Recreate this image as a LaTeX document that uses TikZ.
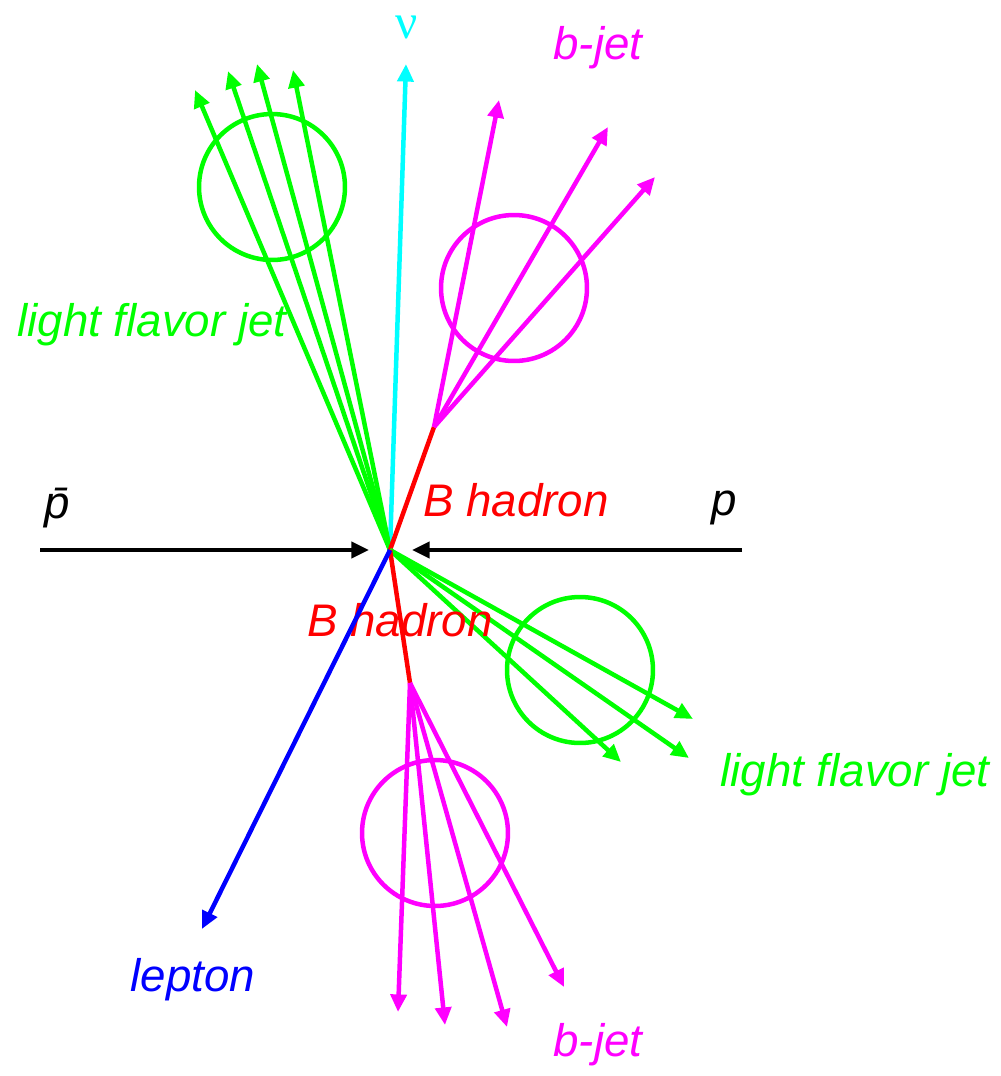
\documentclass[tikz,border=0pt]{standalone}
\usepackage{fontspec}
\setmainfont{Liberation Sans}
\newfontfamily\greekfont{Liberation Serif}
\usepackage{tikz}
\usetikzlibrary{arrows.meta,positioning,calc}
\definecolor{jetgreen}{RGB}{0,255,0}
\definecolor{jetmagenta}{RGB}{255,0,255}
\definecolor{nucyan}{RGB}{0,255,255}
\definecolor{lepblue}{RGB}{0,0,255}
\definecolor{hadred}{RGB}{255,0,0}

\begin{document}
\begin{tikzpicture}[
  x=0.02cm, y=-0.02cm,
  track/.style={line width=0.09cm, -{Triangle[length=10pt,width=9pt]}},
  flight/.style={line width=0.09cm, hadred},
  jetcone/.style={circle, draw, line width=0.09cm, minimum size=2.92cm, inner sep=0pt},
  tag/.style={font=\fontsize{26}{30}\selectfont\itshape, inner sep=0pt}
]
\useasboundingbox (0,0) rectangle (1001,1076);

% Interaction point
\coordinate (vtx) at (390,550);
\coordinate (bvtxup) at (434,427);
\coordinate (bvtxdn) at (410,683);

% Beams
\coordinate (pbarstart) at (40,550);
\coordinate (pbarend) at (369,550);
\coordinate (pstart) at (742,550);
\coordinate (pend) at (412,550);
\draw[track, black] (pbarstart) -- (pbarend);
\draw[track, black] (pstart) -- (pend);
\node[tag] (pbarlabel) at (57,508) {\=p};
\node[tag] (plabel) at (724,508) {p};

% Neutrino
\coordinate (nutip) at (406,64);
\draw[track, nucyan] (vtx) -- (nutip);
\node[font=\fontsize{28}{32}\selectfont\greekfont, text=nucyan, inner sep=0pt] (nulabel) at (407,27) {ν};

% Light flavor jet (upper left)
\node[jetcone, jetgreen] (lfcone1) at (272,187) {};
\foreach \tx/\ty [count=\i] in {195/90, 228/71, 257/64, 293/70}
  \coordinate (lftip1\i) at (\tx,\ty);
\foreach \i in {1,...,4}
  \draw[track, jetgreen] (vtx) -- (lftip1\i);
\node[tag, text=jetgreen] (lflabel1) at (152,325) {light flavor jet};

% b-jet (upper right)
\draw[flight] (vtx) -- (bvtxup);
\node[jetcone, jetmagenta] (bcone1) at (514,288) {};
\foreach \tx/\ty [count=\i] in {499/100, 608/127, 655/177}
  \coordinate (btip1\i) at (\tx,\ty);
\foreach \i in {1,...,3}
  \draw[track, jetmagenta] (bvtxup) -- (btip1\i);
\node[tag, text=jetmagenta] (blabel1) at (598,48) {b-jet};
\node[tag, text=hadred] (bhadlabel1) at (516,500) {B hadron};

% Light flavor jet (lower right)
\node[jetcone, jetgreen] (lfcone2) at (580,670) {};
\foreach \tx/\ty [count=\i] in {621/762, 689/758, 693/719}
  \coordinate (lftip2\i) at (\tx,\ty);
\foreach \i in {1,...,3}
  \draw[track, jetgreen] (vtx) -- (lftip2\i);
\node[tag, text=jetgreen] (lflabel2) at (855,775) {light flavor jet};

% b-jet (lower)
\draw[flight] (vtx) -- (bvtxdn);
\node[jetcone, jetmagenta] (bcone2) at (435,833) {};
\foreach \tx/\ty [count=\i] in {398/1012, 445/1025, 507/1027, 564/987}
  \coordinate (btip2\i) at (\tx,\ty);
\foreach \i in {1,...,4}
  \draw[track, jetmagenta] (bvtxdn) -- (btip2\i);
\node[tag, text=jetmagenta] (blabel2) at (598,1045) {b-jet};
\node[tag, text=hadred] (bhadlabel2) at (400,620) {B hadron};

% Lepton
\coordinate (leptip) at (202,929);
\draw[track, lepblue] (vtx) -- (leptip);
\node[tag, text=lepblue] (leplabel) at (193,980) {lepton};

\end{tikzpicture}
\end{document}
